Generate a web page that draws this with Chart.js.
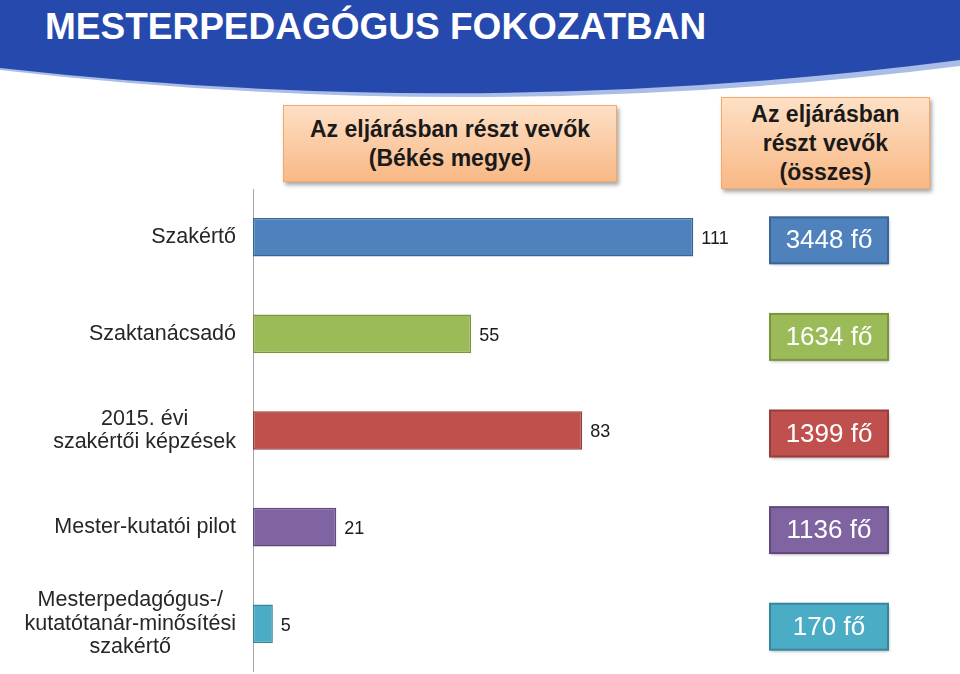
<!DOCTYPE html>
<html>
<head>
<meta charset="utf-8">
<script src="https://cdn.jsdelivr.net/npm/chart.js@4/dist/chart.umd.min.js"></script>
<style>
  body { margin: 0; width: 960px; height: 674px; overflow: hidden; background: #fff; font-family: "Liberation Sans", Arial, sans-serif; position: relative; }
  #banner { position: absolute; left: 0; top: 0; }
  #title { position: absolute; left: 45px; top: 6px; color: #fff; font-weight: bold; font-size: 37px; letter-spacing: 0px; }
  .hbox { position: absolute; text-align: center; font-weight: bold; font-size: 23px; color: #1a1a1a;
          background: linear-gradient(#fde0c6, #f9b884); border: 1px solid #f5a868;
          box-shadow: 2px 3px 4px rgba(0,0,0,0.35); display: flex; align-items: center; justify-content: center; line-height: 29px; }
  #box1 { left: 283px; top: 105px; width: 332px; height: 75px; }
  #box2 { left: 721px; top: 97px; width: 207px; height: 90px; }
  #wrap { position: absolute; left: 0; top: 189px; width: 960px; height: 483px; }
</style>
</head>
<body>
<svg id="banner" width="960" height="110">
  <path d="M0 0 H960 V66 Q480 126 0 70 Z" fill="#a9bde6"/>
  <path d="M0 0 H960 V60 Q480 122 0 68 Z" fill="#2649ad"/>
</svg>
<div id="title">MESTERPEDAGÓGUS FOKOZATBAN</div>
<div class="hbox" id="box1">Az eljárásban részt vevők<br>(Békés megye)</div>
<div class="hbox" id="box2">Az eljárásban<br>részt vevők<br>(összes)</div>
<div id="wrap"><canvas id="chart"></canvas></div>
<script>
const categories = [
    ['Szakértő'],
    ['Szaktanácsadó'],
    ['2015. évi', 'szakértői képzések'],
    ['Mester-kutatói pilot'],
    ['Mesterpedagógus-/', 'kutatótanár-minősítési', 'szakértő']
];
const bekesValues = [111, 55, 83, 21, 5];
const totalLabels = ['3448 fő', '1634 fő', '1399 fő', '1136 fő', '170 fő'];
const fillColors = ['#4f81bd', '#9bbb59', '#c0504d', '#8064a2', '#4bacc6'];
const borderColors = ['#3a6494', '#7a9440', '#963c3a', '#5f4a7c', '#36869c'];

const FONT = '"Liberation Sans", Arial, sans-serif';

const labelsPlugin = {
    id: 'labelsPlugin',
    afterDraw(chart) {
        const ctx = chart.ctx;
        const y = chart.scales.y;
        const meta = chart.getDatasetMeta(0);
        ctx.save();
        // category labels: block right-aligned, lines centered
        ctx.font = '21.5px ' + FONT;
        ctx.fillStyle = '#262626';
        ctx.textAlign = 'center';
        ctx.textBaseline = 'middle';
        categories.forEach((lines, i) => {
            const cy = y.getPixelForTick(i);
            const w = Math.max(...lines.map(l => ctx.measureText(l).width));
            const cx = 236 - w / 2;
            const lh = 23.5;
            lines.forEach((l, j) => {
                ctx.fillText(l, cx, cy + (j - (lines.length - 1) / 2) * lh);
            });
        });
        // values
        ctx.font = '18px ' + FONT;
        ctx.fillStyle = '#1a1a1a';
        ctx.textAlign = 'left';
        meta.data.forEach((bar, i) => {
            ctx.fillText(String(bekesValues[i]), bar.x + 8, bar.y + 2);
        });
        // total boxes
        meta.data.forEach((bar, i) => {
            const bx = 770, bw = 118, bh = 46, by = bar.y + 3 - bh / 2;
            ctx.shadowColor = 'rgba(0,0,0,0.3)';
            ctx.shadowOffsetX = 1;
            ctx.shadowOffsetY = 2;
            ctx.shadowBlur = 3;
            ctx.fillStyle = fillColors[i];
            ctx.fillRect(bx, by, bw, bh);
            ctx.shadowColor = 'transparent';
            ctx.strokeStyle = borderColors[i];
            ctx.lineWidth = 2;
            ctx.strokeRect(bx, by, bw, bh);
            ctx.fillStyle = '#fff';
            ctx.font = '26px ' + FONT;
            ctx.textAlign = 'center';
            ctx.fillText(totalLabels[i], bx + bw / 2, by + bh / 2 + 1);
            ctx.textAlign = 'left';
        });
        ctx.restore();
    }
};

new Chart(document.getElementById('chart'), {
    type: 'bar',
    data: {
        labels: categories,
        datasets: [{
            data: bekesValues,
            backgroundColor: fillColors,
            borderColor: borderColors,
            borderWidth: 1.5,
            borderSkipped: false,
            categoryPercentage: 1,
            barPercentage: 0.4
        }]
    },
    options: {
        indexAxis: 'y',
        responsive: true,
        maintainAspectRatio: false,
        animation: false,
        layout: { padding: { top: 0, bottom: 0, left: 0, right: 112 } },
        plugins: { legend: { display: false }, tooltip: { enabled: false } },
        scales: {
            x: { display: false, min: 0, max: 150 },
            y: {
                grid: { display: false },
                border: { display: true, color: '#a6a6a6', width: 1 },
                ticks: { display: false },
                afterFit(scale) { scale.width = 253; }
            }
        }
    },
    plugins: [labelsPlugin]
});
</script>
</body>
</html>
